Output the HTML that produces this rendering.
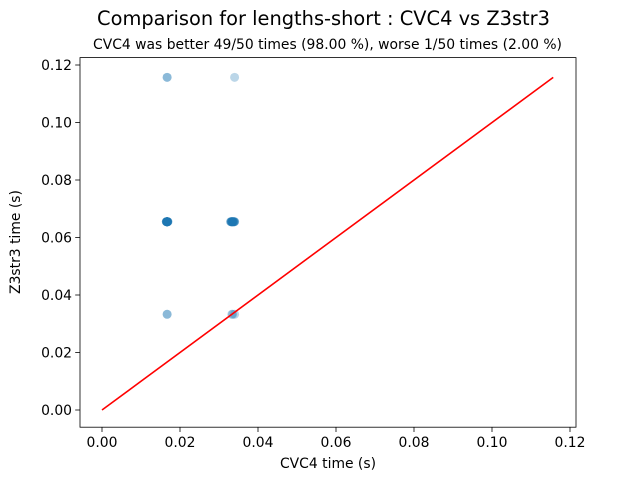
<!DOCTYPE html>
<html><head><meta charset="utf-8"><style>
body{margin:0;background:#fff;}
svg{display:block;font-family:"DejaVu Sans","Liberation Sans",sans-serif;}
</style></head><body>
<svg id="chart" width="640" height="480" viewBox="0 0 640 480">
<rect width="640" height="480" fill="#fff"/>
<text x="323.5" y="25" font-size="19.4" text-anchor="middle">Comparison for lengths-short : CVC4 vs Z3str3</text>
<text x="327.5" y="49" font-size="13.9" text-anchor="middle">CVC4 was better 49/50 times (98.00 %), worse 1/50 times (2.00 %)</text>
<g id="plot"></g>
<rect x="80" y="57.6" width="496" height="369.6" fill="none" stroke="#000" stroke-width="0.8"/>
<text x="328" y="468" font-size="13.9" text-anchor="middle">CVC4 time (s)</text>
<text transform="translate(20,242) rotate(-90)" font-size="13.9" text-anchor="middle">Z3str3 time (s)</text>
</svg>
<script>
const xTicks=[0,0.02,0.04,0.06,0.08,0.1,0.12];
const yTicks=[0,0.02,0.04,0.06,0.08,0.1,0.12];
const cvc4Times=[0.0167,0.0167,0.0340,
0.0167,0.0167,0.0168,0.0165,0.0167,0.0166,0.0168,0.0167,0.0165,0.0169,0.0167,0.0166,0.0168,0.0167,0.0165,0.0167,0.0168,0.0166,0.0167,0.0169,0.0167,0.0166,
0.0330,0.0333,0.0335,0.0338,0.0340,0.0332,0.0336,0.0334,0.0331,0.0339,0.0337,0.0333,0.0335,0.0330,0.0338,0.0334,0.0336,0.0332,0.0340,0.0333,
0.0167,0.0167,0.0333,0.0340,0.0335];
const z3Times=[0.1157,0.1157,0.1157,
0.0655,0.0655,0.0655,0.0655,0.0655,0.0655,0.0655,0.0655,0.0655,0.0655,0.0655,0.0655,0.0655,0.0655,0.0655,0.0655,0.0655,0.0655,0.0655,0.0655,0.0655,0.0655,
0.0655,0.0655,0.0655,0.0655,0.0655,0.0655,0.0655,0.0655,0.0655,0.0655,0.0655,0.0655,0.0655,0.0655,0.0655,0.0655,0.0655,0.0655,0.0655,0.0655,
0.0333,0.0333,0.0333,0.0333,0.0333];
const diagMax=0.1157;
const NS="http://www.w3.org/2000/svg";
const X=v=>102+v*3900, Y=v=>410-v*2875;
const g=document.getElementById('plot');
function mk(t,a){const e=document.createElementNS(NS,t);for(const k in a)e.setAttribute(k,a[k]);g.appendChild(e);return e;}
xTicks.forEach(t=>{
 const l=mk('line',{x1:X(t),x2:X(t),y1:427.2,y2:432,stroke:'#000','stroke-width':0.8});
 
 
 const s=mk('text',{x:X(t),y:447,'font-size':13.9,'text-anchor':'middle'});s.textContent=t.toFixed(2);
 
 
});
yTicks.forEach(t=>{
 const l=mk('line',{x1:75.2,x2:80,y1:Y(t),y2:Y(t),stroke:'#000','stroke-width':0.8});
 
 
 const s=mk('text',{x:72,y:Y(t)+5,'font-size':13.9,'text-anchor':'end'});s.textContent=t.toFixed(2);
 
 
});
cvc4Times.forEach((v,i)=>{
 const c=mk('circle',{cx:X(v),cy:Y(z3Times[i]),r:4.5,fill:'#1f77b4','fill-opacity':0.3});
 
 
});
const d=mk('line',{x1:X(0),y1:Y(0),x2:X(diagMax),y2:Y(diagMax),stroke:'red','stroke-width':1.6});


</script>
</body></html>
